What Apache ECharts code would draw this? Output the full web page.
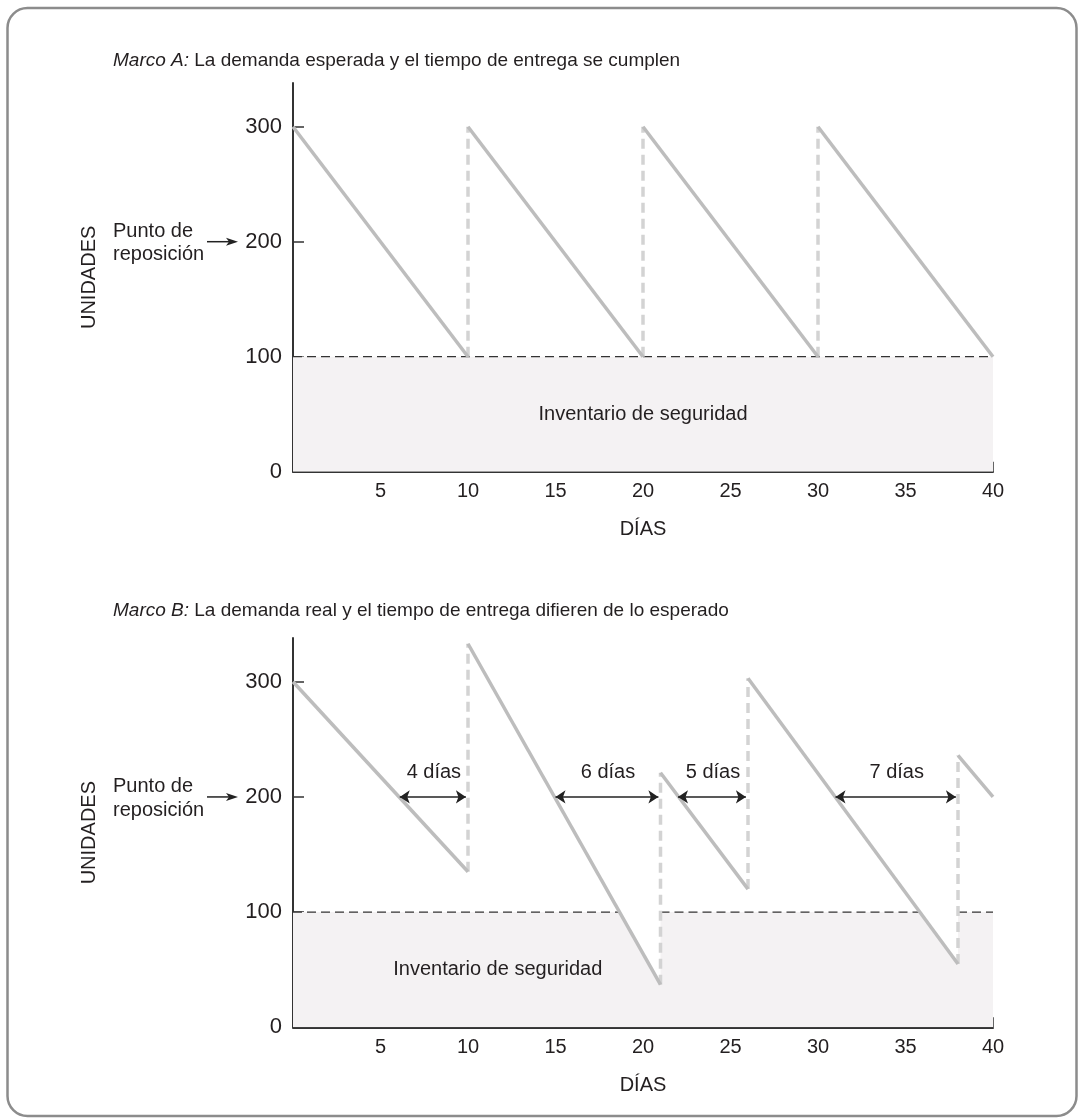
<!DOCTYPE html>
<html>
<head>
<meta charset="utf-8">
<script src="https://cdn.jsdelivr.net/npm/echarts@6/dist/echarts.min.js"></script>
<style>
html,body{margin:0;padding:0;background:#fff;}
#chart{width:1085px;height:1119px;}
</style>
</head>
<body>
<div id="chart"></div>
<script>
// ---- Data ----
const titleA = 'La demanda esperada y el tiempo de entrega se cumplen';
const titleB = 'La demanda real y el tiempo de entrega difieren de lo esperado';
const xTicks = [0, 5, 10, 15, 20, 25, 30, 35, 40];
const yTicks = [0, 100, 200, 300];
// Panel A: order cycle days, peak after receipt, low before receipt
const daysA  = [0, 10, 20, 30, 40];
const peaksA = [300, 300, 300, 300];
const lowsA  = [100, 100, 100, 100];
// Panel B
const daysB  = [0, 10, 21, 26, 38, 40];
const peaksB = [300, 333, 221, 303, 236];
const lowsB  = [135, 37, 120, 55, 200];
const safetyStock = 100;
const reorderPoint = 200;
// Lead-time arrows in panel B
const leadStartB  = [6.1, 15, 22, 31];
const leadEndB    = [10, 21, 26, 38];
const leadLabelsB = ['4 días', '6 días', '5 días', '7 días'];
const safetyLabel = 'Inventario de seguridad';
const safetyLabelPosA = [20, 50];
const safetyLabelPosB = [11.7, 50];

const FONT = '"Liberation Sans", Arial, sans-serif';
const TXT = '#231f20';
const SAW = '#bdbdbd';
const SAW_DASH = '#d3d3d3';
const FILL = '#f4f2f3';

function buildPanel(days, peaks, lows, gi) {
  const s = [];
  const poly = [[days[0], Math.min(peaks[0], safetyStock)]];
  const dashSegs = [];
  let segStart = days[0];
  for (let i = 0; i < peaks.length; i++) {
    const d0 = days[i], d1 = days[i + 1], p = peaks[i], l = lows[i];
    if (l < safetyStock && p > safetyStock) {
      const xc = d0 + (p - safetyStock) / (p - l) * (d1 - d0);
      poly.push([xc, safetyStock], [d1, l]);
      dashSegs.push([segStart, xc]);
      if (i < peaks.length - 1) { poly.push([d1, safetyStock]); segStart = d1; }
      else segStart = null;
    } else {
      poly.push([d1, safetyStock]);
    }
  }
  if (segStart !== null) dashSegs.push([segStart, days[days.length - 1]]);
  s.push({
    type: 'line', xAxisIndex: gi, yAxisIndex: gi, data: poly, symbol: 'none',
    lineStyle: { width: 0, opacity: 0 }, areaStyle: { color: FILL, opacity: 1 },
    silent: true, z: 1
  });
  dashSegs.forEach(seg => s.push({
    type: 'line', xAxisIndex: gi, yAxisIndex: gi, symbol: 'none', z: 2,
    data: [[seg[0], safetyStock], [seg[1], safetyStock]],
    lineStyle: { color: '#333', width: 1.3, type: [9, 5] }
  }));
  for (let i = 0; i < peaks.length; i++) {
    s.push({
      type: 'line', xAxisIndex: gi, yAxisIndex: gi, symbol: 'none', z: 4,
      data: [[days[i], peaks[i]], [days[i + 1], lows[i]]],
      lineStyle: { color: SAW, width: 3.5, cap: 'butt' }
    });
    if (i < peaks.length - 1) {
      s.push({
        type: 'line', xAxisIndex: gi, yAxisIndex: gi, symbol: 'none', z: 3,
        data: [[days[i + 1], lows[i]], [days[i + 1], peaks[i + 1]]],
        lineStyle: { color: SAW_DASH, width: 3.5, type: [10, 6], cap: 'butt' }
      });
    }
  }
  return s;
}

function xAxis(gi) {
  return {
    type: 'value', gridIndex: gi, min: 0, max: 40, interval: 5,
    name: 'DÍAS', nameLocation: 'middle', nameGap: 48,
    nameTextStyle: { fontFamily: FONT, fontSize: 20, color: TXT },
    axisLine: { lineStyle: { color: '#333', width: 2 } },
    axisTick: { inside: true, length: 10, lineStyle: { color: '#333', width: 1.5 } },
    axisLabel: { fontFamily: FONT, fontSize: 20, color: TXT, margin: 10,
      formatter: v => (v === 0 ? '' : String(v)) },
    splitLine: { show: false }
  };
}
function yAxis(gi) {
  return {
    type: 'value', gridIndex: gi, min: 0, max: 338, interval: 100,
    name: 'UNIDADES', nameLocation: 'middle', nameGap: 194,
    nameTextStyle: { fontFamily: FONT, fontSize: 20, color: TXT },
    axisLine: { show: true, lineStyle: { color: '#333', width: 2 } },
    axisTick: { show: true, inside: true, length: 11, customValues: yTicks.filter(v => v > 0),
      lineStyle: { color: '#333', width: 1.5 } },
    axisLabel: { fontFamily: FONT, fontSize: 22, color: TXT, margin: 11, customValues: yTicks },
    splitLine: { show: false }
  };
}

const series = [];
series.push(...buildPanel(daysA, peaksA, lowsA, 0));
series.push(...buildPanel(daysB, peaksB, lowsB, 1));

// lead-time arrows
series.push({
  type: 'lines', coordinateSystem: 'cartesian2d', xAxisIndex: 1, yAxisIndex: 1, z: 6,
  symbol: ['arrow', 'arrow'], symbolSize: [10, 10],
  lineStyle: { color: '#222', width: 1.5, opacity: 1 },
  data: leadStartB.map((s0, i) => ({ coords: [[s0, reorderPoint], [leadEndB[i] - 0.12, reorderPoint]] }))
});
const labelStyle = { fontFamily: FONT, fontSize: 20, color: TXT, opacity: 1, textBorderWidth: 0 };
series.push({
  type: 'scatter', xAxisIndex: 1, yAxisIndex: 1, symbolSize: 1, z: 6, silent: true,
  itemStyle: { opacity: 0 },
  data: leadStartB.map((s0, i) => ({ value: [(s0 + leadEndB[i]) / 2, reorderPoint], name: leadLabelsB[i] })),
  label: Object.assign({ show: true, position: 'top', distance: 14, formatter: p => p.name }, labelStyle)
});
// safety stock labels
[[safetyLabelPosA, 0], [safetyLabelPosB, 1]].forEach(([pos, gi]) => series.push({
  type: 'scatter', xAxisIndex: gi, yAxisIndex: gi, symbolSize: 1, z: 6, silent: true,
  itemStyle: { opacity: 0 },
  data: [{ value: pos, name: safetyLabel }],
  label: Object.assign({ show: true, position: 'inside', formatter: p => p.name }, labelStyle)
}));

const chart = echarts.init(document.getElementById('chart'), null, { renderer: 'canvas' });
const option = {
  animation: false,
  backgroundColor: '#fff',
  title: [
    { text: '{i|Marco A:} ' + titleA, left: 108, top: 46,
      textStyle: { fontFamily: FONT, fontSize: 19, fontWeight: 'normal', color: TXT,
        rich: { i: { fontFamily: FONT, fontSize: 19, fontStyle: 'italic', color: TXT } } } },
    { text: '{i|Marco B:} ' + titleB, left: 108, top: 596,
      textStyle: { fontFamily: FONT, fontSize: 19, fontWeight: 'normal', color: TXT,
        rich: { i: { fontFamily: FONT, fontSize: 19, fontStyle: 'italic', color: TXT } } } }
  ],
  grid: [
    { left: 293, right: 92, top: 83, bottom: 647.3 },
    { left: 293, right: 92, top: 638, bottom: 91.7 }
  ],
  xAxis: [xAxis(0), xAxis(1)],
  yAxis: [yAxis(0), yAxis(1)],
  series: series
};
chart.setOption(option);

// reorder-point callouts and frame
const graphics = [{
  type: 'rect', shape: { x: 7.5, y: 8, width: 1069, height: 1108, r: 20 },
  style: { fill: 'none', stroke: '#8c8c8c', lineWidth: 2.5 }, z: 100
}];
[0, 1].forEach(gi => {
  const py = chart.convertToPixel({ gridIndex: gi }, [0, reorderPoint])[1];
  graphics.push({
    type: 'text', z: 100,
    style: { text: 'Punto de\nreposición', x: 113, y: py + 1.5, verticalAlign: 'middle',
      font: '20px ' + FONT, fill: TXT, lineHeight: 23.5 }
  });
  graphics.push({
    type: 'line', z: 100, shape: { x1: 207, y1: py, x2: 230, y2: py },
    style: { stroke: '#222', lineWidth: 1.5 }
  });
  graphics.push({
    type: 'polygon', z: 100, shape: { points: [[238, py], [226, py - 4], [229, py], [226, py + 4]] },
    style: { fill: '#222' }
  });
});
chart.setOption({ graphic: graphics });
</script>
</body>
</html>
